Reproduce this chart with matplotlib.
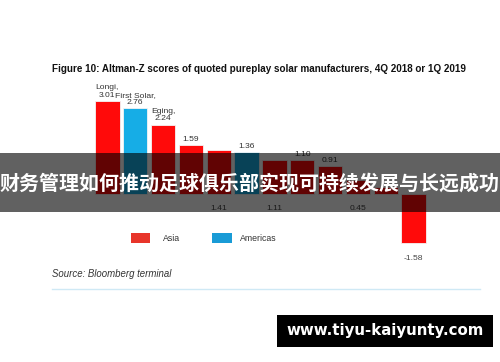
import matplotlib
matplotlib.use("Agg")
import matplotlib.pyplot as plt
from matplotlib.patches import Rectangle

plt.rcParams["font.family"] = ["Liberation Sans", "DejaVu Sans"]

# ---- data ----
values = [3.01, 2.76, 2.24, 1.59, 1.41, 1.36, 1.11, 1.10, 0.91, 0.45, 0.21, -1.58]
region = ["Asia", "Americas", "Asia", "Asia", "Asia", "Americas", "Asia", "Asia", "Asia", "Asia", "Asia", "Asia"]
labels = ["Longi,\n3.01", "First Solar,\n2.76", "Eging,\n2.24", "1.59", "1.41", "1.36",
          "1.11", "1.10", "0.91", "0.45", "", "-1.58"]
place = ["above", "above", "above", "above", "below", "above", "below", "above", "above", "below", "above", "under"]

RED, BLUE = "#ff0a0a", "#16ade6"
colors = {"Asia": RED, "Americas": BLUE}

W, H = 500, 362
fig = plt.figure(figsize=(W / 100, H / 100), dpi=100)
fig.patch.set_facecolor("white")

ax = fig.add_axes([93.5 / W, 1 - 256 / H, 334 / W, 170.5 / H])
x = list(range(len(values)))
ax.bar(x, values, width=0.88, color=[colors[r] for r in region], edgecolor="#f4f4f4", linewidth=0.6)
ax.set_xlim(-0.5, len(values) - 0.5)
ax.set_ylim(-2.0, 3.5)
ax.axis("off")

for xi, v, lab, p in zip(x, values, labels, place):
    if not lab:
        continue
    if p == "above":
        ax.annotate(lab, (xi, v), xytext=(0, 1.5), textcoords="offset points",
                    ha="center", va="bottom", fontsize=6.1, color="#333333", linespacing=1.1)
    elif p == "below":
        ax.annotate(lab, (xi, 0), xytext=(0, -8), textcoords="offset points",
                    ha="center", va="top", fontsize=6.1, color="#444444")
    else:
        ax.annotate(lab, (xi, v), xytext=(0, -9), textcoords="offset points",
                    ha="center", va="top", fontsize=6.1, color="#444444")

# title
fig.text(52 / W, 1 - 69 / H, "Figure 10: Altman-Z scores of quoted pureplay solar manufacturers, 4Q 2018 or 1Q 2019",
         fontsize=7.1, fontweight="bold", color="#111111", ha="left", va="center")

# legend
fig.patches.append(Rectangle((131 / W, 1 - 243 / H), 19 / W, 10 / H, transform=fig.transFigure,
                             facecolor="#e8352a", edgecolor="none"))
fig.text(163 / W, 1 - 238.5 / H, "Asia", fontsize=6.3, color="#333333", va="center")
fig.patches.append(Rectangle((212 / W, 1 - 243 / H), 20 / W, 10 / H, transform=fig.transFigure,
                             facecolor="#199bd6", edgecolor="none"))
fig.text(240 / W, 1 - 238.5 / H, "Americas", fontsize=6.3, color="#333333", va="center")

# source + rule
fig.text(52 / W, 1 - 274 / H, "Source: Bloomberg terminal", fontsize=6.9, style="italic",
         color="#333333", va="center")
fig.add_artist(plt.Line2D([52 / W, 480 / W], [1 - 289 / H] * 2, color="#cfe9f5", lw=1))

# dark overlay band with headline
fig.patches.append(Rectangle((0, 1 - 212 / H), 1, 59 / H, transform=fig.transFigure,
                             facecolor="black", alpha=0.62, edgecolor="none", zorder=5))
fig.text(0.5, 1 - 183 / H, "财务管理如何推动足球俱乐部实现可持续发展与长远成功",
         fontsize=14.4, fontweight="bold", color="white", ha="center", va="center",
         family=["Noto Sans CJK SC", "DejaVu Sans"], zorder=6)

# watermark box
fig.patches.append(Rectangle((277 / W, 1 - 347 / H), 216 / W, 32 / H, transform=fig.transFigure,
                             facecolor="black", edgecolor="none", zorder=5))
fig.text(385 / W, 1 - 331 / H, "www.tiyu-kaiyunty.com", fontsize=10.8, fontweight="bold",
         color="white", ha="center", va="center", family=["DejaVu Sans"], zorder=6)

fig.savefig("out.png", dpi=100)
